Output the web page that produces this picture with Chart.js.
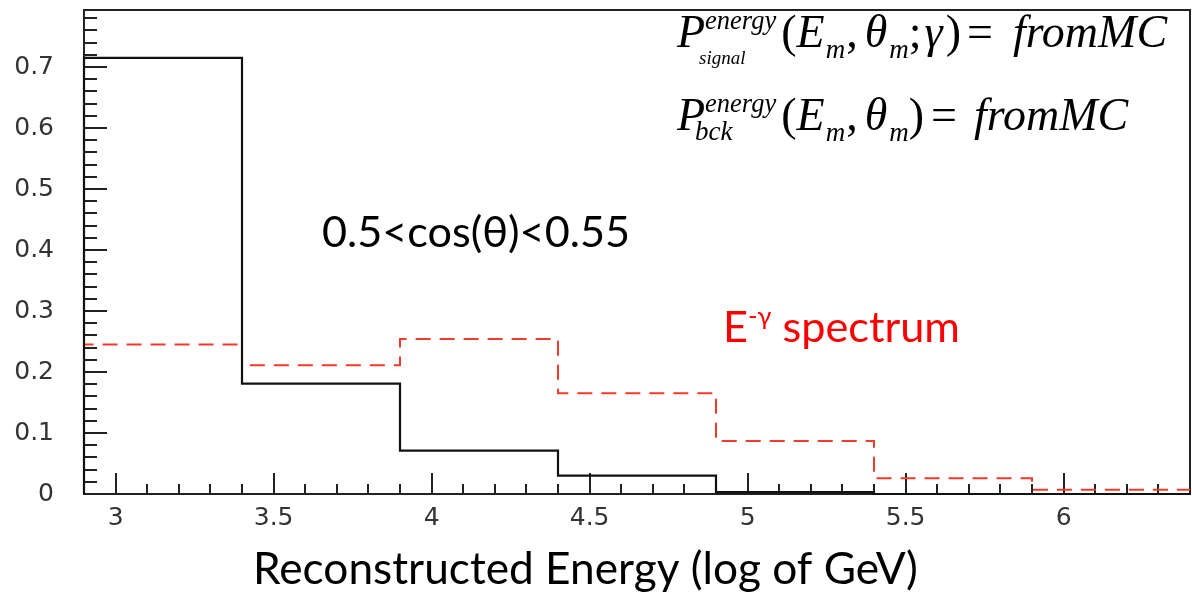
<!DOCTYPE html>
<html>
<head>
<meta charset="utf-8">
<script src="https://cdn.jsdelivr.net/npm/chart.js@4"></script>
<style>
  html, body { margin: 0; padding: 0; background: #fff; }
  #wrap { width: 1192px; height: 598px; }
</style>
</head>
<body>
<div id="wrap"><canvas id="histChart" width="1192" height="598"></canvas></div>
<script>
// Histogram bins (log10 of GeV)
const binEdges = [2.9, 3.4, 3.9, 4.4, 4.9, 5.4, 5.9, 6.4];
const signalValues = [0.715, 0.181, 0.071, 0.030, 0.003, 0, 0];
const bckValues = [0.245, 0.211, 0.254, 0.165, 0.087, 0.026, 0.007];

const xTickValues = [3, 3.5, 4, 4.5, 5, 5.5, 6];
const xTickLabels = ['3', '3.5', '4', '4.5', '5', '5.5', '6'];
const yTickValues = [0, 0.1, 0.2, 0.3, 0.4, 0.5, 0.6, 0.7];
const yTickLabels = ['0', '0.1', '0.2', '0.3', '0.4', '0.5', '0.6', '0.7'];

const tickFont = { family: '"DejaVu Sans", sans-serif', size: 25 };
const tickColor = '#333';
const serif = '"Liberation Serif", "DejaVu Serif", serif';
const sans = 'Lato, "Open Sans", "DejaVu Sans", sans-serif';

// left edge of every bin + closing point, drawn as a step line
function toSteps(values) {
  const pts = [{ x: binEdges[0], y: 0 }];
  values.forEach((v, i) => pts.push({ x: binEdges[i], y: v }));
  pts.push({ x: binEdges[binEdges.length - 1], y: values[values.length - 1] });
  return pts;
}

function runFont(r, k) {
  return (r.italic ? 'italic ' : '') + (r.size * k).toFixed(2) + 'px ' + r.family;
}

// draws a row of text pieces; if width is given the row is scaled to fit it
function drawRuns(ctx, runs, x, baseline, width, color) {
  let total = 0;
  runs.forEach(r => {
    ctx.font = runFont(r, 1);
    r.w = ctx.measureText(r.text).width;
    if (r.under) {
      ctx.font = runFont(r.under, 1);
      r.w = Math.max(r.w, (r.under.dx || 0) + ctx.measureText(r.under.text).width);
    }
    total += r.w + (r.gap || 0);
  });
  const k = width ? width / total : 1;
  let cx = x;
  ctx.fillStyle = color;
  ctx.textBaseline = 'alphabetic';
  ctx.textAlign = 'left';
  runs.forEach(r => {
    ctx.font = runFont(r, k);
    ctx.fillText(r.text, cx, baseline + (r.dy || 0));
    if (r.under) {
      ctx.font = runFont(r.under, k);
      ctx.fillText(r.under.text, cx + (r.under.dx || 0), baseline + (r.under.dy || 0));
    }
    cx += (r.w + (r.gap || 0)) * k;
  });
}

function formulaRuns(sub, subSize, subDy, subDx, withGamma) {
  const big = 46, small = 27;
  const runs = [
    { text: 'P', size: big, italic: true, family: serif },
    { text: 'energy', size: 26.5, italic: true, family: serif, dy: -18, gap: 5,
      under: { text: sub, size: subSize, italic: true, family: serif, dy: subDy, dx: subDx } },
    { text: '(', size: big, family: serif },
    { text: 'E', size: big, italic: true, family: serif, gap: 1 },
    { text: 'm', size: small, italic: true, family: serif, dy: 11, gap: 1 },
    { text: ',', size: big, family: serif, gap: 7 },
    { text: 'θ', size: big, italic: true, family: serif, gap: 2 },
    { text: 'm', size: small, italic: true, family: serif, dy: 11 }
  ];
  if (withGamma) {
    runs.push({ text: ';', size: big, family: serif, gap: 3 });
    runs.push({ text: 'γ', size: big, italic: true, family: serif, gap: 3 });
    runs.push({ text: ')', size: big, family: serif, gap: 6 });
    runs.push({ text: '=', size: big, family: serif, gap: 20 });
  } else {
    runs.push({ text: ')', size: big, family: serif, gap: 7 });
    runs.push({ text: '=', size: big, family: serif, gap: 17 });
  }
  runs.push({ text: 'fromMC', size: big, italic: true, family: serif });
  return runs;
}

const rootStyle = {
  id: 'rootStyle',
  beforeDatasetsDraw(chart) {
    const { ctx, chartArea: a, scales: { x, y } } = chart;
    ctx.save();
    ctx.strokeStyle = '#222';
    ctx.lineWidth = 2;
    ctx.strokeRect(a.left, a.top, a.right - a.left, a.bottom - a.top);
    ctx.beginPath();
    // x ticks every 0.1, long ones on labelled values
    for (let k = 29; k <= 64; k++) {
      const v = k / 10;
      const major = xTickValues.some(t => Math.abs(t - v) < 1e-6);
      const px = Math.round(x.getPixelForValue(v));
      ctx.moveTo(px, a.bottom);
      ctx.lineTo(px, a.bottom - (major ? 21 : 10));
    }
    // y ticks every 0.02
    for (let k = 0; k * 0.02 <= y.max; k++) {
      const v = k * 0.02;
      const major = k % 5 === 0;
      const py = Math.round(y.getPixelForValue(v));
      ctx.moveTo(a.left, py);
      ctx.lineTo(a.left + (major ? 23 : 13), py);
    }
    ctx.stroke();
    ctx.restore();
  },
  afterDraw(chart) {
    const ctx = chart.ctx;
    ctx.save();
    drawRuns(ctx, formulaRuns('signal', 19, 17, -6, true), 677, 47, 0, '#000');
    drawRuns(ctx, formulaRuns('bck', 27, 10, -10, false), 677, 130, 0, '#000');
    drawRuns(ctx, [{ text: '0.5<cos(θ)<0.55', size: 40, family: sans }], 322, 247, 308, '#000');
    drawRuns(ctx, [
      { text: 'E', size: 40, family: sans },
      { text: '-γ', size: 24, family: sans, dy: -17 },
      { text: ' spectrum', size: 40, family: sans }
    ], 723, 342, 237, '#ff0000');
    drawRuns(ctx, [{ text: 'Reconstructed Energy (log of GeV)', size: 40, family: sans }], 253, 584, 665, '#000');
    ctx.restore();
  }
};

const ctx = document.getElementById('histChart').getContext('2d');
new Chart(ctx, {
  type: 'line',
  data: {
    datasets: [{
      label: 'signal',
      data: toSteps(signalValues),
      borderColor: '#111',
      borderWidth: 2.2,
      stepped: 'before',
      pointRadius: 0,
      fill: false,
      clip: false
    }, {
      label: 'E-gamma spectrum',
      data: toSteps(bckValues),
      borderColor: '#f03a2a',
      borderWidth: 2,
      borderDash: [15, 9],
      stepped: 'before',
      pointRadius: 0,
      fill: false,
      clip: false
    }]
  },
  options: {
    responsive: false,
    animation: false,
    devicePixelRatio: 1,
    layout: { padding: { top: 10, right: 2, left: 0, bottom: 0 } },
    plugins: {
      legend: { display: false },
      tooltip: { enabled: false }
    },
    scales: {
      x: {
        type: 'linear',
        min: 2.9,
        max: 6.4,
        grid: { display: false, drawTicks: false },
        border: { display: false },
        afterBuildTicks: s => { s.ticks = xTickValues.map(v => ({ value: v })); },
        afterFit: s => { s.height = 104; s.paddingLeft = 0; s.paddingRight = 0; },
        ticks: {
          autoSkip: false,
          maxRotation: 0,
          padding: 9,
          font: tickFont,
          color: tickColor,
          callback: (v, i) => xTickLabels[i]
        }
      },
      y: {
        min: 0,
        max: 0.7935,
        grid: { display: false, drawTicks: false },
        border: { display: false },
        afterBuildTicks: s => { s.ticks = yTickValues.map(v => ({ value: v })); },
        afterFit: s => { s.width = 84; s.paddingTop = 0; s.paddingBottom = 0; },
        ticks: {
          autoSkip: false,
          padding: 30,
          font: tickFont,
          color: tickColor,
          callback: (v, i) => yTickLabels[i]
        }
      }
    }
  },
  plugins: [rootStyle]
});
</script>
</body>
</html>
